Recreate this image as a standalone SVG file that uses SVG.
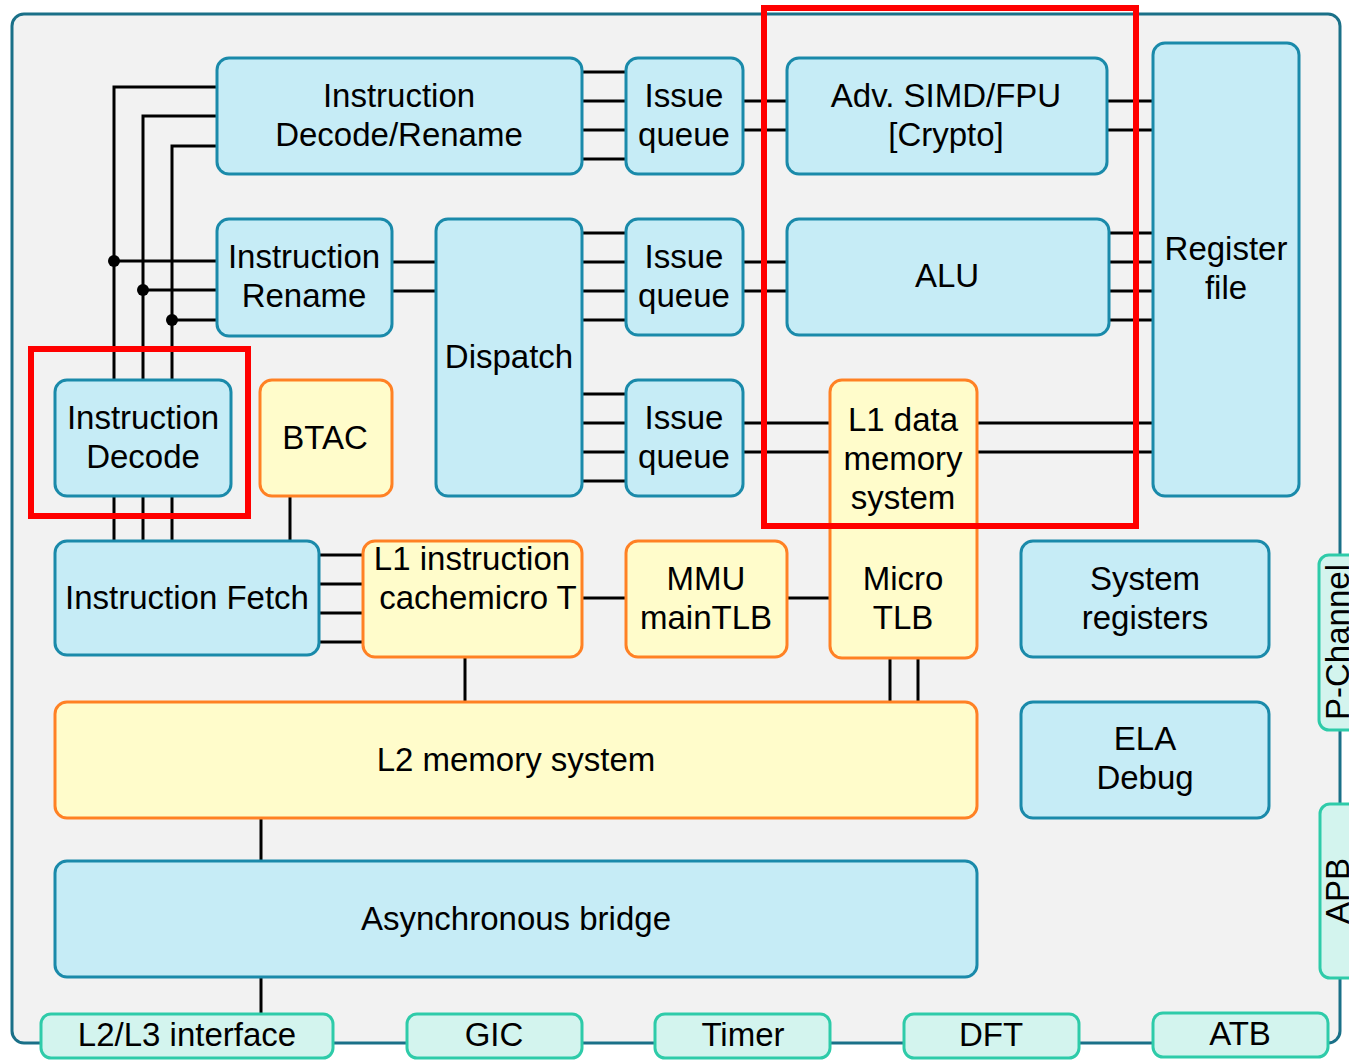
<svg xmlns="http://www.w3.org/2000/svg" width="1349" height="1060" viewBox="0 0 1349 1060">
  <style>
    text { font-family: "Liberation Sans", Arial, sans-serif; font-size: 33px; fill: #000; text-anchor: middle; }
    .blue { fill: #c6ecf6; stroke: #1a8aaa; stroke-width: 3; }
    .orange { fill: #fffccb; stroke: #ff8124; stroke-width: 3; }
    .tab { fill: #d3f4ee; stroke: #2ecba9; stroke-width: 3; }
    .wire { stroke: #000; stroke-width: 3; fill: none; }
    .hl { fill: none; stroke: #ff0000; stroke-width: 6; }
  </style>

  <!-- Core outline -->
  <rect x="12" y="14" width="1328" height="1029" rx="12" fill="#f2f2f2" stroke="#1a7088" stroke-width="3"/>

  <!-- Connectors -->
  <g id="connectors" class="wire">
    <!-- instruction bus from Fetch up to decode/rename stages -->
    <path d="M114 541 V87 H217"/>
    <path d="M143 541 V116 H217"/>
    <path d="M172 541 V146 H217"/>
    <path d="M114 261 H217 M143 290 H217 M172 320 H217"/>
    <!-- Rename to Dispatch -->
    <path d="M392 262 H436 M392 291 H436"/>
    <!-- Decode/Rename to issue queue -->
    <path d="M582 72 H626 M582 101 H626 M582 130 H626 M582 159 H626"/>
    <path d="M743 101 H787 M743 130 H787"/>
    <path d="M1107 101 H1153 M1107 130 H1153"/>
    <!-- Dispatch to issue queues -->
    <path d="M582 233 H626 M582 262 H626 M582 291 H626 M582 320 H626"/>
    <path d="M743 262 H787 M743 291 H787"/>
    <path d="M1109 233 H1153 M1109 262 H1153 M1109 291 H1153 M1109 320 H1153"/>
    <path d="M582 394 H626 M582 423 H626 M582 452 H626 M582 481 H626"/>
    <path d="M743 423 H830 M743 452 H830"/>
    <path d="M977 423 H1153 M977 452 H1153"/>
    <!-- fetch side -->
    <path d="M290 496 V541"/>
    <path d="M319 555 H363 M319 584 H363 M319 613 H363 M319 642 H363"/>
    <path d="M582 598 H626 M787 598 H830"/>
    <path d="M465 657 V702"/>
    <path d="M890 658 V702 M918 658 V702"/>
    <path d="M261 818 V861"/>
    <path d="M261 977 V1014"/>
  </g>
  <g id="junctions" fill="#000">
    <circle cx="114" cy="261" r="6"/>
    <circle cx="143" cy="290" r="6"/>
    <circle cx="172" cy="320" r="6"/>
  </g>

  <!-- Units -->
  <g id="decode-rename">
    <rect class="blue" x="217" y="58" width="365" height="116" rx="12"/>
    <text x="399" y="107">Instruction</text>
    <text x="399" y="146">Decode/Rename</text>
  </g>
  <g id="issue-queue-1">
    <rect class="blue" x="626" y="58" width="117" height="116" rx="12"/>
    <text x="684" y="107">Issue</text>
    <text x="684" y="146">queue</text>
  </g>
  <g id="simd-fpu">
    <rect class="blue" x="787" y="58" width="320" height="116" rx="12"/>
    <text x="946" y="107">Adv. SIMD/FPU</text>
    <text x="946" y="146">[Crypto]</text>
  </g>
  <g id="register-file">
    <rect class="blue" x="1153" y="43" width="146" height="453" rx="12"/>
    <text x="1226" y="260">Register</text>
    <text x="1226" y="299">file</text>
  </g>
  <g id="rename">
    <rect class="blue" x="217" y="219" width="175" height="117" rx="12"/>
    <text x="304" y="268">Instruction</text>
    <text x="304" y="307">Rename</text>
  </g>
  <g id="dispatch">
    <rect class="blue" x="436" y="219" width="146" height="277" rx="12"/>
    <text x="509" y="368">Dispatch</text>
  </g>
  <g id="issue-queue-2">
    <rect class="blue" x="626" y="219" width="117" height="116" rx="12"/>
    <text x="684" y="268">Issue</text>
    <text x="684" y="307">queue</text>
  </g>
  <g id="alu">
    <rect class="blue" x="787" y="219" width="322" height="116" rx="12"/>
    <text x="947" y="287">ALU</text>
  </g>
  <g id="instruction-decode">
    <rect class="blue" x="55" y="380" width="176" height="116" rx="12"/>
    <text x="143" y="429">Instruction</text>
    <text x="143" y="468">Decode</text>
  </g>
  <g id="btac">
    <rect class="orange" x="260" y="380" width="132" height="116" rx="12"/>
    <text x="325" y="449">BTAC</text>
  </g>
  <g id="issue-queue-3">
    <rect class="blue" x="626" y="380" width="117" height="116" rx="12"/>
    <text x="684" y="429">Issue</text>
    <text x="684" y="468">queue</text>
  </g>
  <g id="l1-data">
    <rect class="orange" x="830" y="380" width="147" height="278" rx="12"/>
    <text x="903" y="431">L1 data</text>
    <text x="903" y="470">memory</text>
    <text x="903" y="509">system</text>
  </g>
  <g id="micro-tlb">
    <text x="903" y="590">Micro</text>
    <text x="903" y="629">TLB</text>
  </g>
  <g id="instruction-fetch">
    <rect class="blue" x="55" y="541" width="264" height="114" rx="12"/>
    <text x="187" y="609">Instruction Fetch</text>
  </g>
  <g id="l1-instruction">
    <rect class="orange" x="363" y="541" width="219" height="116" rx="12"/>
    <text x="472" y="570">L1 instruction</text>
    <text x="478" y="609">cachemicro T</text>
  </g>
  <g id="mmu">
    <rect class="orange" x="626" y="541" width="161" height="116" rx="12"/>
    <text x="706" y="590">MMU</text>
    <text x="706" y="629">mainTLB</text>
  </g>
  <g id="system-registers">
    <rect class="blue" x="1021" y="541" width="248" height="116" rx="12"/>
    <text x="1145" y="590">System</text>
    <text x="1145" y="629">registers</text>
  </g>
  <g id="l2-memory">
    <rect class="orange" x="55" y="702" width="922" height="116" rx="12"/>
    <text x="516" y="771">L2 memory system</text>
  </g>
  <g id="ela-debug">
    <rect class="blue" x="1021" y="702" width="248" height="116" rx="12"/>
    <text x="1145" y="750">ELA</text>
    <text x="1145" y="789">Debug</text>
  </g>
  <g id="async-bridge">
    <rect class="blue" x="55" y="861" width="922" height="116" rx="12"/>
    <text x="516" y="930">Asynchronous bridge</text>
  </g>

  <!-- External interfaces -->
  <g id="if-l2l3">
    <rect class="tab" x="41" y="1014" width="292" height="44" rx="10"/>
    <text x="187" y="1046">L2/L3 interface</text>
  </g>
  <g id="if-gic">
    <rect class="tab" x="407" y="1014" width="175" height="44" rx="10"/>
    <text x="494" y="1046">GIC</text>
  </g>
  <g id="if-timer">
    <rect class="tab" x="655" y="1014" width="175" height="44" rx="10"/>
    <text x="743" y="1046">Timer</text>
  </g>
  <g id="if-dft">
    <rect class="tab" x="904" y="1014" width="175" height="44" rx="10"/>
    <text x="991" y="1046">DFT</text>
  </g>
  <g id="if-atb">
    <rect class="tab" x="1153" y="1013" width="175" height="44" rx="10"/>
    <text x="1240" y="1045">ATB</text>
  </g>
  <g id="if-pchannel">
    <rect class="tab" x="1319" y="555" width="50" height="175" rx="10"/>
    <text transform="translate(1349 642) rotate(-90)">P-Channel</text>
  </g>
  <g id="if-apb">
    <rect class="tab" x="1320" y="804" width="50" height="174" rx="10"/>
    <text transform="translate(1349 891) rotate(-90)">APB</text>
  </g>

  <!-- Highlight frames -->
  <g id="highlights">
    <rect class="hl" x="31" y="349" width="217" height="167"/>
    <rect class="hl" x="764" y="8" width="372" height="518"/>
  </g>
</svg>
